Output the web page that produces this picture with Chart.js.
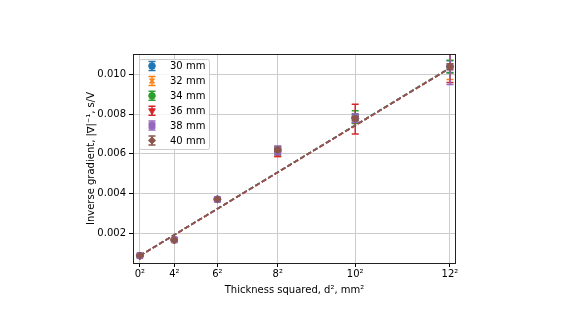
<!DOCTYPE html>
<html>
<head>
<meta charset="utf-8">
<title>Inverse gradient</title>
<script src="https://cdn.jsdelivr.net/npm/chart.js@4.4.1/dist/chart.umd.min.js"></script>
<style>
  html, body { margin: 0; padding: 0; background: #fff; }
</style>
</head>
<body>
<canvas id="grafico" width="580" height="330"></canvas>
<script>
// d^2 en mm^2 (0, 4, 6, 8, 10, 12 mm)
const xVals = [0, 16, 36, 64, 100, 144];
const xTickLabels = ['0²', '4²', '6²', '8²', '10²', '12²'];
const yTicks = [0.002, 0.004, 0.006, 0.008, 0.010];
const seriesLabels = ['30 mm', '32 mm', '34 mm', '36 mm', '38 mm', '40 mm'];

// gradiente inverso (s/V) y su error, por serie
const g30 = [0.00086, 0.00166, 0.00371, 0.00620, 0.00778, 0.01040];
const e30 = [0.00002, 0.00003, 0.00005, 0.00015, 0.00020, 0.00030];
const g32 = [0.00085, 0.00164, 0.00369, 0.00612, 0.00772, 0.01040];
const e32 = [0.00002, 0.00003, 0.00005, 0.00025, 0.00015, 0.00065];
const g34 = [0.00086, 0.00165, 0.00370, 0.00615, 0.00785, 0.01040];
const e34 = [0.00002, 0.00003, 0.00005, 0.00020, 0.00032, 0.00032];
const g36 = [0.00085, 0.00165, 0.00372, 0.00605, 0.00775, 0.01035];
const e36 = [0.00002, 0.00003, 0.00005, 0.00018, 0.00075, 0.00075];
const g38 = [0.00086, 0.00166, 0.00370, 0.00618, 0.00780, 0.01040];
const e38 = [0.00002, 0.00003, 0.00005, 0.00022, 0.00022, 0.00090];
const g40 = [0.00086, 0.00165, 0.00371, 0.00620, 0.00778, 0.01040];
const e40 = [0.00002, 0.00003, 0.00004, 0.00008, 0.00010, 0.00015];

// ajuste lineal: valor en d^2 = 0 y en d^2 = 144
const fitX = [0, 144];
const fit30 = [0.00086, 0.01034];
const fit32 = [0.00085, 0.01033];
const fit34 = [0.00086, 0.01035];
const fit36 = [0.00085, 0.01032];
const fit38 = [0.00086, 0.01034];
const fit40 = [0.00086, 0.01033];

const valores = [g30, g32, g34, g36, g38, g40];
const errores = [e30, e32, e34, e36, e38, e40];
const ajustes = [fit30, fit32, fit34, fit36, fit38, fit40];

const colores = ['#1f77b4', '#ff7f0e', '#2ca02c', '#d62728', '#9467bd', '#8c564b'];
const marcas = [
  { pointStyle: 'circle', rotation: 0, radius: 3.3 },
  { pointStyle: 'crossRot', rotation: 0, radius: 3.5 },
  { pointStyle: 'circle', rotation: 0, radius: 3.3 },
  { pointStyle: 'triangle', rotation: 180, radius: 3.8 },
  { pointStyle: 'rect', rotation: 0, radius: 4.2 },
  { pointStyle: 'rectRot', rotation: 0, radius: 3.6 }
];

const FUENTE = "'DejaVu Sans', sans-serif";
const TAM = 10;
Chart.defaults.font.family = FUENTE;
Chart.defaults.color = '#000';

const datasets = [];
valores.forEach((serie, s) => {
  datasets.push({
    label: seriesLabels[s],
    data: xVals.map((x, i) => ({ x: x, y: serie[i] })),
    errores: errores[s],
    showLine: false,
    backgroundColor: colores[s],
    borderColor: colores[s],
    pointStyle: marcas[s].pointStyle,
    rotation: marcas[s].rotation,
    pointRadius: marcas[s].radius,
    pointBorderWidth: s === 1 ? 1.5 : 1,
    order: 100 - 2 * s
  });
  datasets.push({
    label: 'ajuste ' + seriesLabels[s],
    data: fitX.map((x, i) => ({ x: x, y: ajustes[s][i] })),
    showLine: true,
    borderColor: colores[s],
    borderWidth: 1.5,
    borderDash: [5, 2.5],
    pointRadius: 0,
    fill: false,
    order: 99 - 2 * s
  });
});

// barras de error, dibujadas justo antes de los puntos de cada serie
const barrasError = {
  id: 'barrasError',
  beforeDatasetDraw(chart, args) {
    const ds = chart.data.datasets[args.index];
    if (!ds.errores) return;
    const { ctx, chartArea, scales: { x, y } } = chart;
    ctx.save();
    ctx.beginPath();
    ctx.rect(chartArea.left, chartArea.top, chartArea.width, chartArea.height);
    ctx.clip();
    ctx.strokeStyle = ds.borderColor;
    ctx.lineWidth = 1.5;
    ds.data.forEach((p, i) => {
      const e = ds.errores[i];
      const px = x.getPixelForValue(p.x);
      const arriba = y.getPixelForValue(p.y + e);
      const abajo = y.getPixelForValue(p.y - e);
      ctx.beginPath();
      ctx.moveTo(px, arriba); ctx.lineTo(px, abajo);
      ctx.moveTo(px - 3.5, arriba); ctx.lineTo(px + 3.5, arriba);
      ctx.moveTo(px - 3.5, abajo); ctx.lineTo(px + 3.5, abajo);
      ctx.stroke();
    });
    ctx.restore();
  }
};

// marco completo del area de datos
const marco = {
  id: 'marco',
  afterDatasetsDraw(chart) {
    const { ctx, chartArea: a } = chart;
    ctx.save();
    ctx.strokeStyle = '#222';
    ctx.lineWidth = 1;
    ctx.strokeRect(Math.round(a.left) + 0.5, Math.round(a.top) + 0.5,
      Math.round(a.width) - 1, Math.round(a.height));
    ctx.restore();
  }
};

// leyenda estilo matplotlib dentro del grafico
const leyenda = {
  id: 'leyenda',
  afterDraw(chart) {
    const { ctx, chartArea: a } = chart;
    const x0 = a.left + 6, y0 = a.top + 5, w = 70, h = 90;
    ctx.save();
    ctx.fillStyle = 'rgba(255,255,255,0.8)';
    ctx.strokeStyle = '#cccccc';
    ctx.lineWidth = 1;
    ctx.beginPath();
    ctx.roundRect(x0 + 0.5, y0 + 0.5, w, h, 2);
    ctx.fill();
    ctx.stroke();
    ctx.font = TAM + 'px ' + FUENTE;
    ctx.textBaseline = 'middle';
    let s = 0;
    chart.data.datasets.forEach(ds => {
      if (!ds.errores) return;
      const cy = y0 + 7 + s * 14.9;
      const cx = x0 + 13;
      ctx.strokeStyle = ds.borderColor;
      ctx.fillStyle = ds.backgroundColor;
      ctx.lineWidth = 1.5;
      ctx.beginPath();
      ctx.moveTo(cx, cy - 4.5); ctx.lineTo(cx, cy + 4.5);
      ctx.moveTo(cx - 3.5, cy - 4.5); ctx.lineTo(cx + 3.5, cy - 4.5);
      ctx.moveTo(cx - 3.5, cy + 4.5); ctx.lineTo(cx + 3.5, cy + 4.5);
      ctx.stroke();
      ctx.lineWidth = ds.pointBorderWidth;
      Chart.helpers.drawPoint(ctx, {
        pointStyle: ds.pointStyle, rotation: ds.rotation,
        radius: ds.pointRadius, borderWidth: ds.pointBorderWidth
      }, cx, cy);
      ctx.fillStyle = '#000';
      ctx.fillText(ds.label, x0 + 31, cy + 0.5);
      s++;
    });
    ctx.restore();
  }
};

new Chart(document.getElementById('grafico'), {
  type: 'scatter',
  data: { datasets: datasets },
  plugins: [barrasError, marco, leyenda],
  options: {
    responsive: false,
    animation: false,
    layout: { padding: { left: 84, right: 124, top: 54, bottom: 33 } },
    plugins: {
      legend: { display: false },
      tooltip: { enabled: false }
    },
    scales: {
      x: {
        type: 'linear',
        min: -3.2,
        max: 146.8,
        afterBuildTicks: scale => { scale.ticks = xVals.map(v => ({ value: v })); },
        afterFit: scale => { scale.height = 34; },
        ticks: {
          font: { size: TAM },
          padding: 1,
          maxRotation: 0,
          autoSkip: false,
          callback: v => xTickLabels[xVals.indexOf(v)]
        },
        grid: { color: '#cccccc', lineWidth: 1, tickColor: '#000', tickLength: 4 },
        border: { display: false },
        title: {
          display: true,
          text: 'Thickness squared, d², mm²',
          font: { size: TAM },
          padding: { top: 0, bottom: 1 }
        }
      },
      y: {
        type: 'linear',
        min: 0.00049,
        max: 0.01104,
        afterBuildTicks: scale => { scale.ticks = yTicks.map(v => ({ value: v })); },
        afterFit: scale => { scale.width = 49; },
        ticks: {
          font: { size: TAM },
          padding: 3,
          callback: v => v.toFixed(3)
        },
        grid: { color: '#cccccc', lineWidth: 1, tickColor: '#000', tickLength: 4 },
        border: { display: false },
        title: {
          display: true,
          text: 'Inverse gradient, |∇|⁻¹, s/V',
          font: { size: TAM },
          padding: { top: 1.5, bottom: 0 }
        }
      }
    }
  }
});
</script>
</body>
</html>
